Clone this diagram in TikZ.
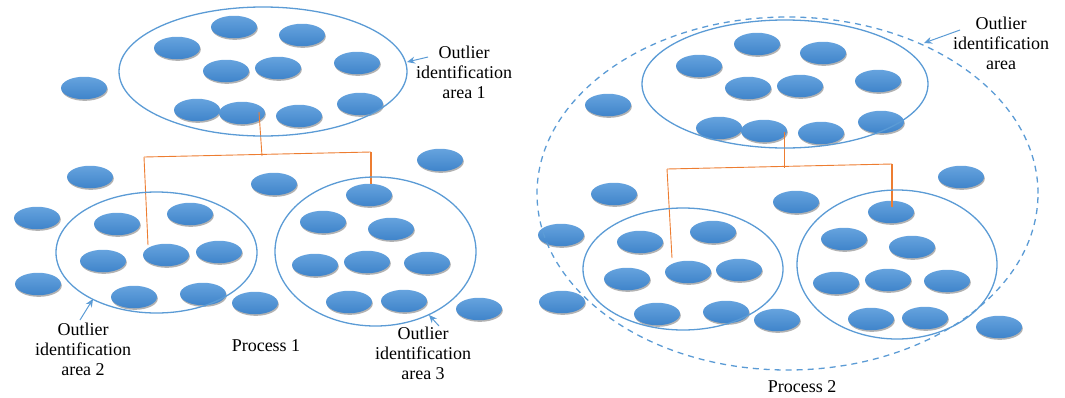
\documentclass[tikz,border=0pt]{standalone}
\usepackage{fontspec}
\setmainfont{Liberation Serif}
\usetikzlibrary{shapes.geometric,shadows,arrows.meta}
\definecolor{dotTop}{HTML}{66A3DE}
\definecolor{dotBot}{HTML}{3F84CA}
\definecolor{ringC}{HTML}{5B9BD5}
\definecolor{orangeC}{HTML}{ED7D31}
\tikzset{
  dot/.style={ellipse, minimum width=46pt, minimum height=22.5pt, inner sep=0pt, outer sep=0pt,
    top color=dotTop, bottom color=dotBot, draw=none,
    drop shadow={shadow xshift=0.8pt, shadow yshift=-1.6pt, fill=black, opacity=0.3}},
  ring/.style={ellipse, draw=ringC, line width=1.3pt, inner sep=0pt, outer sep=0pt},
  dashring/.style={ring, dash pattern=on 6pt off 5pt},
  link/.style={draw=orangeC, line width=0.9pt},
  thicklink/.style={draw=orangeC, line width=2pt},
  lbl/.style={align=center, font=\fontsize{18}{20}\selectfont, inner sep=0pt},
  pointer/.style={draw=ringC, line width=1pt, -{Stealth[length=8pt,width=7pt]}}
}
\begin{document}
\begin{tikzpicture}[x=1pt,y=-1pt]
\useasboundingbox (0,0) rectangle (1065,397);
% ---------------- Process 1 ----------------
\foreach \n/\x/\y in {
 a1/177/48, a2/234/27, a3/302/35, a4/226/71, a5/278/68, a6/357/63,
 a7/197/110, a8/242/113, a9/299/116, a10/360/104,
 o1/84/88, o2/90/177, o3/274/184, o4/440/160,
 b1/37/218, b2/117/224, b3/190/214, b4/103/261, b5/166/255, b6/219/252,
 b7/38/284, b8/134/297, b9/203/294, b10/255/303,
 c1/369/195, c2/323/222, c3/391/229, c4/315/265, c5/367/262, c6/427/263,
 c7/349/302, c8/404/301, c9/479/309}
 {\node[dot] (L\n) at (\x,\y) {};}
\coordinate (P1top) at (259,112);
\coordinate (P1mid) at (262,156);
\coordinate (P1left) at (144,157);
\coordinate (P1right) at (371,152);
\coordinate (P1lend) at (148,245);
\coordinate (P1rend) at (371,184);
\draw[link] (P1top) -- (P1mid);
\draw[link] (P1left) -- (P1right);
\draw[link] (P1left) -- (P1lend);
\draw[thicklink] (P1right) -- (P1rend);
\node[ring, minimum width=288pt, minimum height=129pt] (R1) at (263,71.5) {};
\node[ring, minimum width=201pt, minimum height=121pt] (R2) at (156.5,252.5) {};
\node[ring, minimum width=201pt, minimum height=149pt] (R3) at (375.5,251.5) {};
\node[lbl] (T1) at (464,72) {Outlier\\identification\\area 1};
\node[lbl] (T2) at (83,349) {Outlier\\identification\\area 2};
\node[lbl] (T3) at (423,353) {Outlier\\identification\\area 3};
\node[lbl] (TP1) at (266,346) {Process 1};
\coordinate (A1s) at (428,57);
\coordinate (A1e) at (407,62);
\coordinate (A2s) at (80,320);
\coordinate (A2e) at (93,299);
\coordinate (A3s) at (439,326);
\coordinate (A3e) at (429,315);
\draw[pointer] (A1s) -- (A1e);
\draw[pointer] (A2s) -- (A2e);
\draw[pointer] (A3s) -- (A3e);
% ---------------- Process 2 ----------------
\foreach \n/\x/\y in {
 a1/699/66, a2/757/44, a3/823/53, a4/748/88, a5/800/86, a6/878/81,
 a7/719/128, a8/764/131, a9/821/133, a10/881/122,
 o1/608/105, o2/614/194, o3/796/202, o4/961/177,
 b1/561/235, b2/640/242, b3/713/232, b4/627/279, b5/688/272, b6/739/270,
 b7/562/302, b8/657/314, b9/726/312, b10/777/320,
 c1/891/212, c2/844/239, c3/912/247, c4/836/283, c5/888/280, c6/947/281,
 c7/871/319, c8/925/318, c9/999/327}
 {\node[dot] (R\n) at (\x,\y) {};}
\coordinate (P2top) at (784,132);
\coordinate (P2mid) at (784,168);
\coordinate (P2left) at (667,169);
\coordinate (P2right) at (892,164);
\coordinate (P2lend) at (672,258);
\coordinate (P2rend) at (892,207);
\draw[link] (P2top) -- (P2mid);
\draw[link] (P2left) -- (P2right);
\draw[link] (P2left) -- (P2lend);
\draw[thicklink] (P2right) -- (P2rend);
\node[dashring, minimum width=501pt, minimum height=353pt] (R0) at (787.5,193.5) {};
\node[ring, minimum width=286pt, minimum height=128pt] (R4) at (785,84) {};
\node[ring, minimum width=200pt, minimum height=122pt] (R5) at (683,269) {};
\node[ring, minimum width=200pt, minimum height=149pt] (R6) at (897,264.5) {};
\node[lbl] (T4) at (1001,43) {Outlier\\identification\\area};
\node[lbl] (TP2) at (802,387) {Process 2};
\coordinate (A4s) at (960,30);
\coordinate (A4e) at (924,43);
\draw[pointer] (A4s) -- (A4e);
\end{tikzpicture}
\end{document}
